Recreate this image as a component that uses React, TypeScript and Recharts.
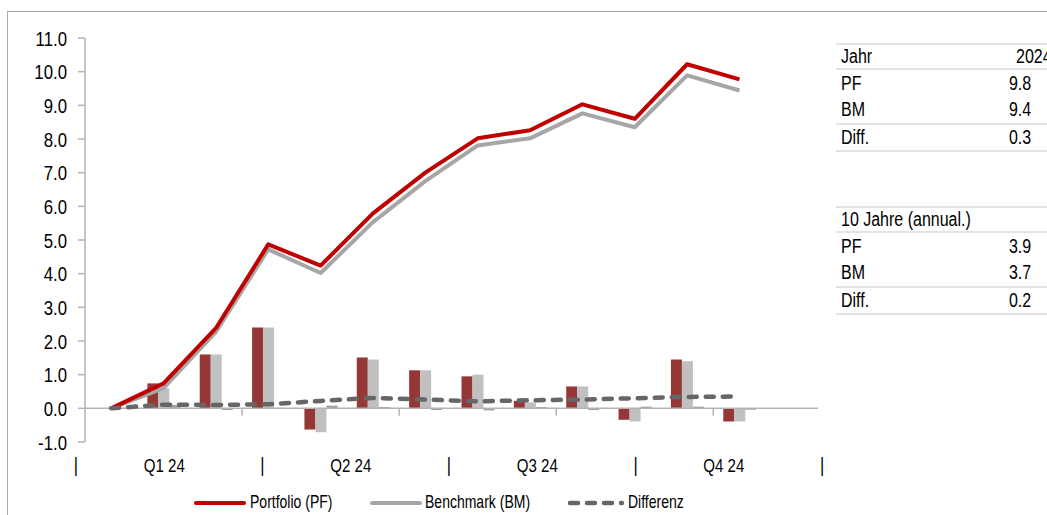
import React from 'react';
import { ComposedChart, Line, Bar, XAxis, YAxis, ReferenceLine, Legend } from 'recharts';

const FONT = '"Liberation Sans", Arial, sans-serif';
const SQUEEZE = 0.82;

// x positions: 0 = start, 1..12 = months of 2024
const steps = [0, 1, 2, 3, 4, 5, 6, 7, 8, 9, 10, 11, 12];
const pfCum = [0, 0.74, 2.38, 4.87, 4.24, 5.79, 7.0, 8.02, 8.26, 9.03, 8.6, 10.22, 9.77];
const bmCum = [0, 0.6, 2.27, 4.72, 4.02, 5.53, 6.75, 7.81, 8.02, 8.76, 8.35, 9.89, 9.44];
const diffCum = [0, 0.11, 0.1, 0.12, 0.22, 0.31, 0.26, 0.21, 0.24, 0.26, 0.3, 0.34, 0.35];
const pfMonth = [null, 0.74, 1.6, 2.4, -0.63, 1.51, 1.13, 0.95, 0.22, 0.65, -0.34, 1.45, -0.39];
const bmMonth = [null, 0.6, 1.6, 2.4, -0.71, 1.45, 1.13, 1.0, 0.18, 0.65, -0.39, 1.4, -0.39];
const diffMonth = [null, 0.1, -0.05, 0.01, 0.08, 0.04, -0.05, -0.06, 0.04, -0.05, 0.05, 0.05, -0.04];

const quarterLabels = ['Q1 24', 'Q2 24', 'Q3 24', 'Q4 24'];
const quarterBoundaries = [2.5, 5.5, 8.5, 11.5];
const yTicks = [-1, 0, 1, 2, 3, 4, 5, 6, 7, 8, 9, 10, 11];
// quarter (secondary) axis spans slightly wider than the month axis, as in the original
const QUARTER_START = -0.672;
const QUARTER_SPAN = 3.5625;
const quarterCenters = quarterLabels.map((_, q) => QUARTER_START + (q + 0.5) * QUARTER_SPAN);

const tableYear = { header: 'Jahr', col: '2024', rows: [['PF', '9.8'], ['BM', '9.4'], ['Diff.', '0.3']] };
const tableTen = { header: '10 Jahre (annual.)', col: '', rows: [['PF', '3.9'], ['BM', '3.7'], ['Diff.', '0.2']] };

const data = steps.map((x, i) => ({
  x,
  pf: pfCum[i],
  bm: bmCum[i],
  diff: diffCum[i],
  pfM: pfMonth[i],
  bmM: bmMonth[i],
  diffM: diffMonth[i],
}));

const RED_LINE = '#c00000';
const GRAY_LINE = '#a6a6a6';
const DASH = '#666666';
const RED_BAR = '#953735';
const GRAY_BAR = '#c0c0c0';
const DIFF_BAR = '#a0a0a0';
const AXIS = '#b3b3b3';

const SText = ({ x, y, anchor, size, children, dy, scale = SQUEEZE }: any) => (
  <text
    x={0}
    y={0}
    transform={`translate(${x},${y}) scale(${scale},1)`}
    textAnchor={anchor}
    dy={dy}
    fontFamily={FONT}
    fontSize={size}
    fill="#000"
  >
    {children}
  </text>
);

const YTick = (props: any) => {
  const { x, y, payload } = props;
  return (
    <SText x={x} y={y} anchor="end" size={21} scale={0.8} dy="0.36em">
      {Number(payload.value).toFixed(1)}
    </SText>
  );
};

const QTick = (props: any) => {
  const { x, y, payload, index } = props;
  const half = 93.3;
  const isLast = index === quarterLabels.length - 1;
  return (
    <g>
      <SText x={x - half} y={y - 1} anchor="middle" size={20} dy="0.71em">|</SText>
      <SText x={x - 5} y={y} anchor="middle" size={18.4} dy="0.71em">
        {quarterLabels[index] ?? String(payload.value)}
      </SText>
      {isLast ? (
        <SText x={x + half} y={y - 1} anchor="middle" size={20} dy="0.71em">|</SText>
      ) : null}
    </g>
  );
};

const Squeezed = ({ children, size, origin = 'left', scale = SQUEEZE }: any) => (
  <span
    style={{
      display: 'inline-block',
      fontFamily: FONT,
      fontSize: size,
      color: '#000',
      whiteSpace: 'nowrap',
      transform: `scaleX(${scale})`,
      transformOrigin: `${origin} center`,
      lineHeight: 1,
    }}
  >
    {children}
  </span>
);

const LegendContent = () => {
  const item = (label: string, color: string, left: number, textLeft: number, dash?: string) => (
    <React.Fragment key={label}>
      <svg width={60} height={8} style={{ position: 'absolute', left, top: 6, display: 'block' }}>
        <line
          x1={2}
          y1={4}
          x2={dash ? 54 : 50}
          y2={4}
          stroke={color}
          strokeWidth={dash ? 4.5 : 4}
          strokeDasharray={dash}
          strokeLinecap="round"
        />
      </svg>
      <div style={{ position: 'absolute', left: textLeft, top: 0 }}>
        <Squeezed size={18.2} scale={0.77}>{label}</Squeezed>
      </div>
    </React.Fragment>
  );
  return (
    <div style={{ position: 'relative', height: 20, width: 1047 }}>
      {item('Portfolio (PF)', RED_LINE, 194, 250)}
      {item('Benchmark (BM)', GRAY_LINE, 370, 425)}
      {item('Differenz', DASH, 568, 628, '8 9')}
    </div>
  );
};

const Table = ({ t, top }: { t: typeof tableYear; top: number }) => {
  const rowH = 27.3;
  const line = '2px solid #e3e3e3';
  const cell: React.CSSProperties = {
    height: rowH,
    boxSizing: 'border-box',
    position: 'relative',
  };
  const txt = (content: string, pos: React.CSSProperties, origin = 'left') => (
    <div style={{ position: 'absolute', top: 0, bottom: 0, display: 'flex', alignItems: 'center', ...pos }}>
      <Squeezed size={19.5} origin={origin}>{content}</Squeezed>
    </div>
  );
  return (
    <div style={{ position: 'fixed', left: 836, top, width: 230 }}>
      <div style={{ ...cell, borderTop: line, borderBottom: line }}>
        {txt(t.header, { left: 5 })}
        {t.col ? txt(t.col, { left: 180 }) : null}
      </div>
      {t.rows.map((r, i) => (
        <div key={r[0]} style={{ ...cell, borderBottom: i >= 1 ? line : undefined }}>
          {txt(r[0], { left: 5 })}
          {txt(r[1], { right: 35 }, 'right')}
        </div>
      ))}
    </div>
  );
};

export default function App() {
  return (
    <div style={{ position: 'fixed', left: 0, top: 0, width: 1047, height: 515, overflow: 'hidden', background: '#fff' }}>
      <div
        style={{
          position: 'fixed',
          left: 7,
          top: 11,
          width: 1200,
          height: 700,
          border: '1px solid #a8a8a8',
          boxSizing: 'border-box',
        }}
      />
      <div style={{ position: 'fixed', left: 0, top: 0 }}>
        <ComposedChart
          width={1047}
          height={515}
          data={data}
          margin={{ top: 38, right: 229, bottom: 2, left: 0 }}
          barGap={0}
          barSize={11}
        >
          <XAxis
            dataKey="x"
            type="number"
            domain={[-0.5, 13.5]}
            allowDataOverflow
            ticks={quarterCenters}
            interval={0}
            axisLine={false}
            tickLine={false}
            tickSize={6}
            tickMargin={11}
            height={51}
            tick={<QTick />}
          />
          <YAxis
            domain={[-1, 11]}
            ticks={yTicks}
            interval={0}
            width={85}
            allowDataOverflow
            tick={<YTick />}
            axisLine={{ stroke: AXIS, strokeWidth: 1.5 }}
            tickLine={{ stroke: AXIS, strokeWidth: 1.5 }}
            tickSize={7}
            tickMargin={11}
          />
          <ReferenceLine y={0} stroke={AXIS} strokeWidth={1.5} />
          {quarterBoundaries.map((b) => (
            <ReferenceLine
              key={b}
              segment={[{ x: b, y: 0 }, { x: b, y: -0.22 }]}
              stroke={AXIS}
              strokeWidth={1.5}
              ifOverflow="visible"
            />
          ))}
          <Bar dataKey="pfM" fill={RED_BAR} isAnimationActive={false} />
          <Bar dataKey="bmM" fill={GRAY_BAR} isAnimationActive={false} />
          <Bar dataKey="diffM" fill={DIFF_BAR} isAnimationActive={false} />
          <Line dataKey="bm" stroke={GRAY_LINE} strokeWidth={4} dot={false} isAnimationActive={false} strokeLinejoin="round" />
          <Line dataKey="pf" stroke={RED_LINE} strokeWidth={4} dot={false} isAnimationActive={false} strokeLinejoin="round" />
          <Line
            dataKey="diff"
            stroke={DASH}
            strokeWidth={4.5}
            strokeDasharray="8 9"
            strokeLinecap="round"
            dot={false}
            isAnimationActive={false}
          />
          <Legend
            verticalAlign="bottom"
            height={20}
            wrapperStyle={{ left: 0, width: 1047, bottom: 2, height: 20 }}
            content={<LegendContent />}
          />
        </ComposedChart>
      </div>
      <Table t={tableYear} top={43} />
      <Table t={tableTen} top={206} />
    </div>
  );
}
